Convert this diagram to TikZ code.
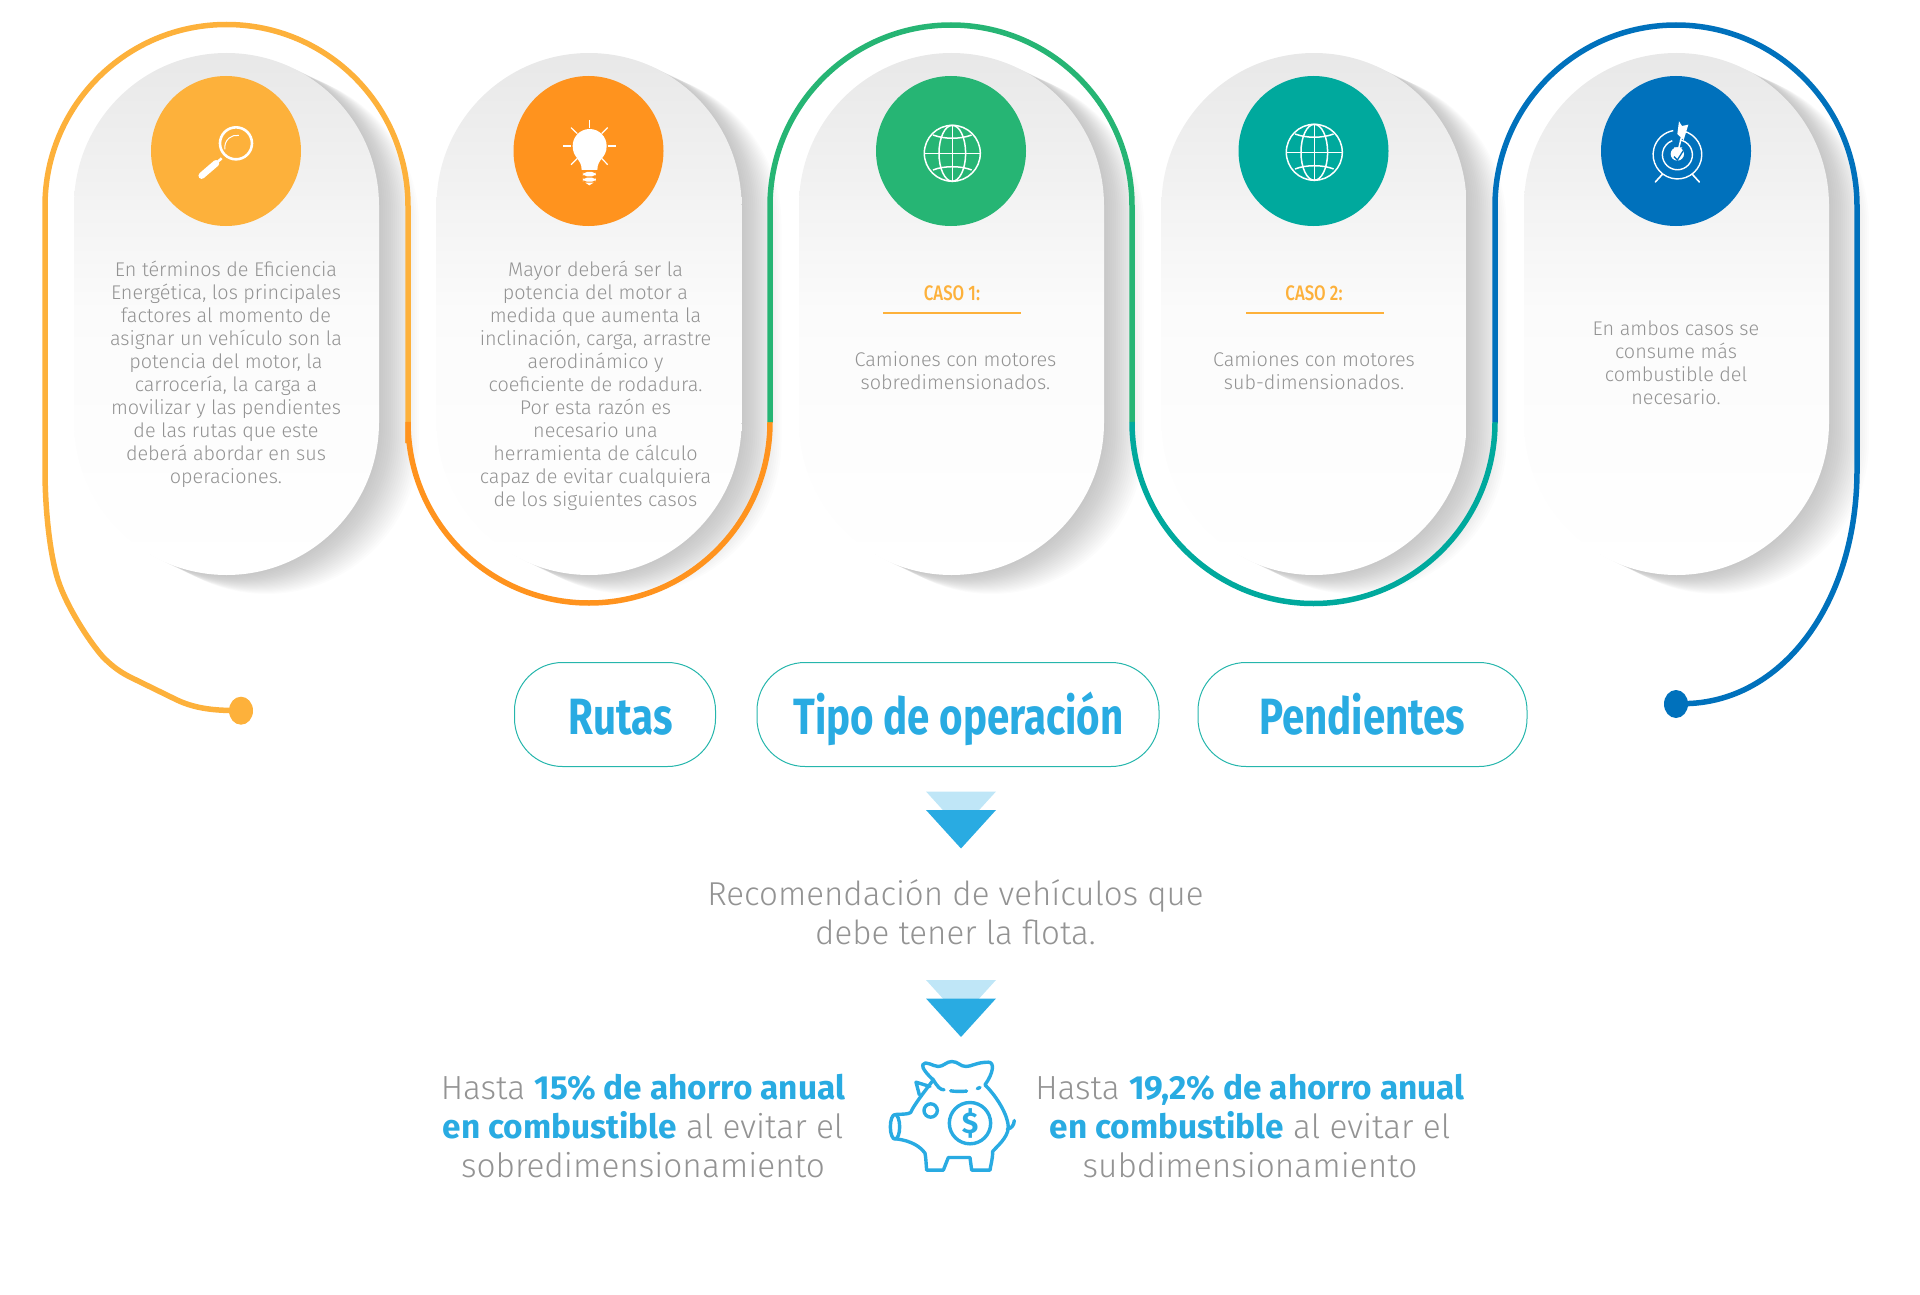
\documentclass[tikz,border=0pt]{standalone}
\usepackage{fontspec}
\setmainfont{Fira Sans}[UprightFont=* Light,BoldFont=* Bold]
\newfontfamily\headfont{Fira Sans}[UprightFont=* Bold,FakeStretch=0.79]
\newfontfamily\casofont{Fira Sans}[UprightFont=* Medium,FakeStretch=0.8]
\usetikzlibrary{calc,positioning,shapes.geometric}

\definecolor{cyellow}{HTML}{FDB13B}
\definecolor{corange}{HTML}{FF931E}
\definecolor{cgreen}{HTML}{26B574}
\definecolor{cteal}{HTML}{00A99D}
\definecolor{cblue}{HTML}{0071BC}
\definecolor{csky}{HTML}{29ABE2}
\definecolor{clight}{HTML}{BFE6F7}
\definecolor{ctext}{HTML}{939393}

\tikzset{
  card/.style={rectangle,rounded corners=152.5pt,minimum width=305pt,minimum height=522pt,inner sep=0pt,outer sep=0pt,
    top color=black!9,bottom color=white,middle color=black!1.5},
  badge/.style={circle,minimum size=150pt,inner sep=0pt,outer sep=0pt,fill=#1},
  trail/.style={line width=5.5pt,draw=#1},
  pill/.style={draw=cteal!85,line width=1pt,rectangle,rounded corners=48pt,minimum height=104pt,inner sep=0pt},
  pilltext/.style={text=csky,font=\headfont\fontsize{51}{51}\selectfont,anchor=base,inner sep=0pt},
  body/.style={text=ctext,align=center,inner sep=0pt,anchor=north,font=\fontsize{19.8}{23}\selectfont},
  large/.style={text=ctext,align=center,inner sep=0pt,anchor=north,font=\fontsize{33.4}{39}\selectfont},
  caso/.style={text=cyellow,inner sep=0pt,font=\casofont\fontsize{21}{21}\selectfont},
  icon/.style={draw=white,line width=1pt},
  pig/.style={draw=csky,line width=3.4pt,line cap=round,line join=round},
  enddot/.style={ellipse,fill=#1,minimum width=24pt,minimum height=28pt,inner sep=0pt,outer sep=0pt},
  tri/.style={fill=#1,draw=none}
}

\newcommand{\globeicon}[2]{
  \begin{scope}[shift={(#1,#2)},x=.3333pt,y=.3333pt,icon,line width=1.5pt]
    \draw (0,0) circle (84);
    \draw (0,0) ellipse (40 and 84);
    \draw (0,84) -- (0,-84);
    \draw (-84,0) -- (84,0);
    \draw (-58,55) .. controls (-25,42) and (25,42) .. (58,55);
    \draw (-58,-50) .. controls (-25,-37) and (25,-37) .. (58,-50);
  \end{scope}
}

\begin{document}
\begin{tikzpicture}[x=1pt,y=1pt]
  \useasboundingbox (0,0) rectangle (1920,-1295);

  % soft shadows
  \foreach \cx in {226.5,589,951.5,1314,1676.5}
    \foreach \t in {1,...,20}
      \fill[black,opacity=.013,rounded corners=152.5pt] (\cx-152.5+\t*2,-53-\t*.95) rectangle ++(305,-522);

  \node[card] (card1) at (226.5,-314) {};
  \node[card,right=57.5pt of card1] (card2) {};
  \node[card,right=57.5pt of card2] (card3) {};
  \node[card,right=57.5pt of card3] (card4) {};
  \node[card,right=57.5pt of card4] (card5) {};

  \node[enddot=cyellow] (start) at (241,-710.7) {};
  \node[enddot=cblue] (finish) at (1676,-704) {};

  % the line that runs round the cards
  \draw[trail=cyellow] (start) .. controls (208,-710) and (192,-707) .. (177,-700) -- (130,-677)
    .. controls (118,-671) and (110,-664) .. (103,-657)
    .. controls (88,-640) and (66,-605) .. (58,-580)
    .. controls (50,-555) and (45,-510) .. (45,-470) -- (45,-206)
    arc[start angle=180,end angle=0,radius=181.5] -- (408,-443);
  \draw[trail=corange] (408,-443) -- (408,-422) arc[start angle=180,end angle=360,radius=181] -- (770,-422);
  \draw[trail=cgreen] (770,-422) -- (770,-206) arc[start angle=180,end angle=0,radius=181] -- (1132,-422);
  \draw[trail=cteal] (1132,-422) arc[start angle=180,end angle=360,radius=181.5];
  \draw[trail=cblue] (1495,-422) -- (1495,-206) arc[start angle=180,end angle=0,radius=181] -- (1857,-470)
    .. controls (1857,-600) and (1785,-700) .. (finish);

  \node[badge=cyellow] (badge1) at (226,-151) {};
  \node[badge=corange,right=212.5pt of badge1] (badge2) {};
  \node[badge=cgreen,right=212.5pt of badge2] (badge3) {};
  \node[badge=cteal,right=212.5pt of badge3] (badge4) {};
  \node[badge=cblue,right=212.5pt of badge4] (badge5) {};

  % magnifier
  \begin{scope}[shift={(140,-60)},x=.3333pt,y=.3333pt,icon]
    \draw[line width=2.6pt] (288,-250) circle (48);
    \draw[line width=1pt] (255,-268) arc[start angle=190,end angle=80,radius=36];
    \draw[line width=2.5pt] (245,-295) -- (228,-310);
    \draw[line width=6.5pt,line cap=round] (228,-310) -- (185,-347);
  \end{scope}

  % bulb
  \begin{scope}[shift={(500,-60)},x=.3333pt,y=.3333pt,icon,line width=1.2pt]
    \fill[white] (245,-330) .. controls (245,-295) and (218,-295) .. (218,-258)
      arc[start angle=180,end angle=0,radius=51] .. controls (320,-295) and (292,-295) .. (292,-330) -- cycle;
    \fill[white,rounded corners=4pt] (249,-336) rectangle (288,-349);
    \fill[white,rounded corners=4pt] (249,-353) rectangle (288,-365);
    \fill[white] (256,-368) -- (281,-368) -- (268,-376) -- cycle;
    \draw (269,-180) -- (269,-203);
    \draw (213,-203) -- (232,-221);
    \draw (323,-203) -- (305,-221);
    \draw (190,-258) -- (214,-258);
    \draw (323,-258) -- (348,-258);
    \draw (213,-314) -- (232,-295);
    \draw (323,-314) -- (305,-295);
  \end{scope}

  \globeicon{952.3}{-153.3}
  \globeicon{1314.3}{-152.3}

  % target
  \begin{scope}[shift={(1600,-60)},x=.3333pt,y=.3333pt,icon,line width=1.4pt]
    \draw (250,-213) arc[start angle=76,end angle=-260,radius=73];
    \draw (240,-240) arc[start angle=80,end angle=-250,radius=45];
    \fill[white] (232,-262) arc[start angle=90,end angle=-270,radius=20];
    \draw[line width=1.6pt,line cap=round] (187,-343) -- (166,-366);
    \draw[line width=1.6pt,line cap=round] (277,-343) -- (298,-366);
    \draw[cblue,line width=1.3pt] (222,-290) -- (232,-300) -- (250,-272);
    \draw[line width=1.5pt] (232,-283) -- (247,-220);
    \fill[white] (237,-184) -- (246,-198) -- (265,-194) -- (251,-240) -- (232,-222) -- cycle;
    \fill[white] (222,-262) -- (247,-262) -- (230,-285) -- cycle;
  \end{scope}

  % card texts
  \node[body] (text1) at (226,-261) {En términos de Eficiencia\\Energética, los principales\\factores al momento de\\asignar un vehículo son la\\potencia del motor, la\\carrocería, la carga a\\movilizar y las pendientes\\de las rutas que este\\deberá abordar en sus\\operaciones.};
  \node[body] (text2) at (595.5,-261) {Mayor deberá ser la\\potencia del motor a\\medida que aumenta la\\inclinación, carga, arrastre\\aerodinámico y\\coeficiente de rodadura.\\Por esta razón es\\necesario una\\herramienta de cálculo\\capaz de evitar cualquiera\\de los siguientes casos};

  \node[caso,anchor=base] (caso1) at (952,-300) {CASO 1:};
  \node[caso,anchor=base] (caso2) at (1314,-300) {CASO 2:};
  \coordinate (rule1a) at (883,-313);
  \coordinate (rule1b) at (1021,-313);
  \coordinate (rule2a) at (1246,-313);
  \coordinate (rule2b) at (1384,-313);
  \draw[cyellow,line width=1.5pt] (rule1a) -- (rule1b);
  \draw[cyellow,line width=1.5pt] (rule2a) -- (rule2b);
  \node[body] (text3) at (955.5,-351) {Camiones con motores\\sobredimensionados.};
  \node[body] (text4) at (1314,-351) {Camiones con motores\\sub-dimensionados.};
  \node[body] (text5) at (1676,-320.5) {En ambos casos se\\consume más\\combustible del\\necesario.};

  % boxes
  \node[pill,minimum width=201pt] (rutas) at (615,-714.5) {};
  \node[pill,minimum width=402pt] (tipo) at (958,-714.5) {};
  \node[pill,minimum width=329pt] (pendientes) at (1362.5,-714.5) {};
  \node[pilltext] (rutaslabel) at (621,-734) {Rutas};
  \node[pilltext] (tipolabel) at (958.5,-734) {Tipo de operación};
  \node[pilltext] (pendienteslabel) at (1362,-734) {Pendientes};

  % arrows down
  \foreach \ty in {-791.5,-980} {
    \fill[tri=clight] (926,\ty) -- (996,\ty) -- (961,\ty-38.5) -- cycle;
    \fill[tri=csky] (926,\ty-18.5) -- (996,\ty-18.5) -- (961,\ty-57) -- cycle;
  }

  \node[large,font=\fontsize{33.1}{39}\selectfont] (reco) at (955.5,-879) {Recomendación de vehículos que\\debe tener la flota.};

  \node[large] (ahorro1) at (643,-1074) {Hasta \textcolor{csky}{\textbf{15\% de ahorro anual}}\\\textcolor{csky}{\textbf{en combustible}} al evitar el\\sobredimensionamiento};
  \node[large] (ahorro2) at (1250,-1074) {Hasta \textcolor{csky}{\textbf{19,2\% de ahorro anual}}\\\textcolor{csky}{\textbf{en combustible}} al evitar el\\subdimensionamiento};

  % piggy bank
  \begin{scope}[shift={(880,-1051.5)},x=.3333pt,y=.3333pt]
    \draw[pig] (45,-226) ellipse (14 and 37);
    \draw[pig] (45,-189) .. controls (70,-188) and (85,-188) .. (92,-183)
      .. controls (102,-160) and (130,-125) .. (160,-85)
      .. controls (172,-105) and (180,-115) .. (192,-115);
    \draw[pig] (118,-130) -- (108,-92) -- (150,-105);
    \draw[pig] (160,-85) .. controls (145,-72) and (125,-50) .. (128,-40)
      .. controls (135,-25) and (160,-45) .. (175,-45)
      .. controls (190,-45) and (200,-30) .. (215,-30)
      .. controls (235,-30) and (240,-45) .. (258,-45)
      .. controls (275,-45) and (290,-32) .. (325,-32)
      .. controls (345,-32) and (340,-65) .. (315,-100);
    \draw[pig,dash pattern=on 16pt off 11pt] (212,-118) .. controls (240,-122) and (275,-120) .. (300,-108);
    \draw[pig] (315,-100) .. controls (355,-140) and (385,-195) .. (385,-228)
      .. controls (383,-260) and (350,-285) .. (338,-300)
      .. controls (338,-325) and (332,-340) .. (330,-356) -- (275,-356) -- (270,-318) -- (205,-318) -- (190,-356) -- (140,-356)
      .. controls (138,-335) and (138,-320) .. (135,-305)
      .. controls (120,-285) and (95,-268) .. (48,-262);
    \draw[pig] (382,-232) .. controls (395,-232) and (402,-220) .. (403,-207);
    \draw[pig] (152,-177) circle (20);
    \draw[pig] (270,-215) circle (62);
    \node[text=csky,font=\bfseries\fontsize{30}{30}\selectfont,inner sep=0pt] (dollar) at (270,-215) {\$};
  \end{scope}
\end{tikzpicture}
\end{document}
